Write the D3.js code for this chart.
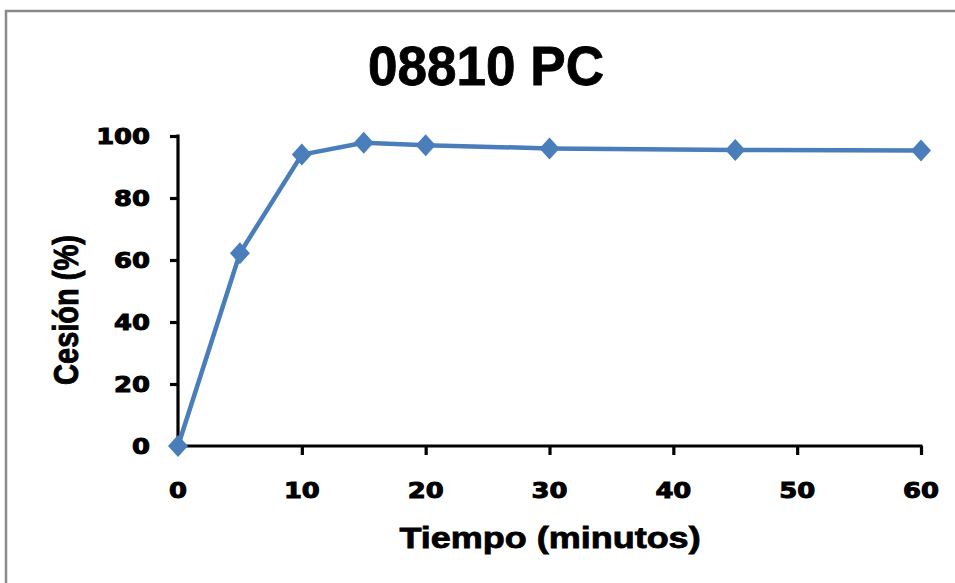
<!DOCTYPE html>
<html>
<head>
<meta charset="utf-8">
<script src="https://cdn.jsdelivr.net/npm/d3@7"></script>
<style>
  html, body { margin: 0; padding: 0; background: #fff; }
  svg { display: block; }
</style>
</head>
<body>
<svg id="chart" width="955" height="583"></svg>
<script>
// Release data: time (minutes) vs. released fraction (%)
const times = [0, 5, 10, 15, 20, 30, 45, 60];
const release = [0, 62.2, 94.0, 97.8, 97.0, 96.0, 95.5, 95.3];
const xTicks = [0, 10, 20, 30, 40, 50, 60];
const yTicks = [0, 20, 40, 60, 80, 100];
const titleText = "08810 PC";
const xTitle = "Tiempo (minutos)";
const yTitle = "Cesión (%)";

const svg = d3.select("#chart");
const W = 955, H = 583;
const margin = { left: 178, right: 34, top: 136, bottom: 137 };

const x = d3.scaleLinear().domain([0, 60]).range([margin.left, W - margin.right]);
const y = d3.scaleLinear().domain([0, 100]).range([H - margin.bottom, margin.top]);

// outer frame
svg.append("rect")
  .attr("x", 6).attr("y", 11)
  .attr("width", 990).attr("height", 640)
  .attr("fill", "none")
  .attr("stroke", "#8a8a8a")
  .attr("stroke-width", 2.5);

// title
svg.append("text")
  .attr("transform", "translate(486,85) scale(1.02,1.05)")
  .attr("text-anchor", "middle")
  .style("font-family", "'Liberation Sans', Arial, sans-serif")
  .style("font-weight", "bold")
  .style("font-size", "52px")
  .attr("fill", "#000")
  .attr("stroke", "#000").attr("stroke-width", 0.8)
  .text(titleText);

// axes
const axisStroke = 3.2;
const xAxis = d3.axisBottom(x).tickValues(xTicks).tickSize(9).tickFormat("");
const yAxis = d3.axisLeft(y).tickValues(yTicks).tickSize(8).tickFormat("");

const gx = svg.append("g").attr("transform", `translate(0,${y(0)})`).call(xAxis);
const gy = svg.append("g").attr("transform", `translate(${x(0)},0)`).call(yAxis);
[gx, gy].forEach(g => {
  g.select(".domain").remove();
  g.selectAll(".tick line").attr("stroke", "#000").attr("stroke-width", axisStroke);
});
svg.append("line")
  .attr("x1", x(0) - 1.5).attr("x2", x(60) + 1.5)
  .attr("y1", y(0)).attr("y2", y(0))
  .attr("stroke", "#000").attr("stroke-width", axisStroke);
svg.append("line")
  .attr("x1", x(0)).attr("x2", x(0))
  .attr("y1", y(100) - 1.5).attr("y2", y(0) + 1.5)
  .attr("stroke", "#000").attr("stroke-width", axisStroke);

// tick labels (heavy, slightly widened)
const tickFont = "'DejaVu Sans', sans-serif";
const sx = 1.2;
svg.append("g").selectAll("text").data(xTicks).join("text")
  .attr("transform", d => `translate(${x(d)},${y(0) + 52}) scale(${sx},1)`)
  .attr("text-anchor", "middle")
  .style("font-family", tickFont).style("font-weight", "bold").style("font-size", "21.5px")
  .attr("fill", "#000").attr("stroke", "#000").attr("stroke-width", 1)
  .text(d => d);
svg.append("g").selectAll("text").data(yTicks).join("text")
  .attr("transform", d => `translate(150,${y(d) + 7.8}) scale(${sx},1)`)
  .attr("text-anchor", "end")
  .style("font-family", tickFont).style("font-weight", "bold").style("font-size", "21.5px")
  .attr("fill", "#000").attr("stroke", "#000").attr("stroke-width", 1)
  .text(d => d);

// axis titles
svg.append("text")
  .attr("transform", `translate(550,548) scale(1.2,1)`)
  .attr("text-anchor", "middle")
  .style("font-family", "'Liberation Sans', Arial, sans-serif")
  .style("font-weight", "bold").style("font-size", "30px")
  .attr("fill", "#000").attr("stroke", "#000").attr("stroke-width", 0.8)
  .text(xTitle);
svg.append("text")
  .attr("transform", `translate(78,310) rotate(-90) scale(1,1.2)`)
  .attr("text-anchor", "middle")
  .style("font-family", "'Liberation Sans', Arial, sans-serif")
  .style("font-weight", "bold").style("font-size", "29px")
  .attr("fill", "#000").attr("stroke", "#000").attr("stroke-width", 0.8)
  .text(yTitle);

// series line + diamond markers
const pts = times.map((t, i) => [t, release[i]]);
const color = "#4a7ebb";
svg.append("path")
  .datum(pts)
  .attr("fill", "none")
  .attr("stroke", color)
  .attr("stroke-width", 4.5)
  .attr("stroke-linejoin", "round")
  .attr("d", d3.line().x(d => x(d[0])).y(d => y(d[1])));

// diamond: half-width 10, half-height 11
const diamondPath = "M0,-11L10,0L0,11L-10,0Z";
svg.append("g").selectAll("path").data(pts).join("path")
  .attr("transform", d => `translate(${x(d[0])},${y(d[1])})`)
  .attr("d", diamondPath)
  .attr("fill", color);
</script>
</body>
</html>
